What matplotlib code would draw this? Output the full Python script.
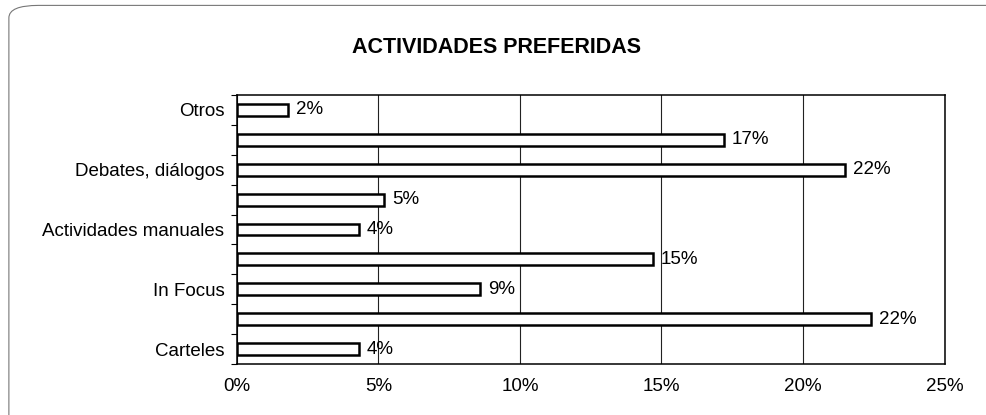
import matplotlib.pyplot as plt
import matplotlib.ticker as mtick
from matplotlib.patches import FancyBboxPatch
import numpy as np

plt.rcParams["font.family"] = ["Liberation Sans", "DejaVu Sans"]

# categories top to bottom; the unlabeled ones have no visible name in the source
categories = [
    "Otros",
    "",
    "Debates, diálogos",
    "",
    "Actividades manuales",
    "",
    "In Focus",
    "",
    "Carteles",
]
shares = [1.8, 17.2, 21.5, 5.2, 4.3, 14.7, 8.6, 22.4, 4.3]
x_ticks = [0, 5, 10, 15, 20, 25]

figure = plt.figure(figsize=(9.87, 4.15), dpi=100)
axis = figure.add_axes([0.240, 0.123, 0.717, 0.648])

y_positions = np.arange(len(categories))
axis.barh(
    y_positions,
    shares,
    height=0.4,
    color="white",
    edgecolor="black",
    linewidth=1.8,
    zorder=3,
)
for y, value in zip(y_positions, shares):
    axis.text(
        value + 0.28,
        y,
        f"{value:.0f}%",
        va="center",
        ha="left",
        fontsize=13.5,
        zorder=4,
    )

axis.set_xlim(0, 25)
axis.set_ylim(len(categories) - 0.5, -0.5)
axis.set_xticks(x_ticks)
axis.xaxis.set_major_formatter(mtick.FuncFormatter(lambda v, _: f"{v:.0f}%"))
axis.tick_params(axis="x", length=0, pad=10, labelsize=13.5)

axis.set_yticks(y_positions)
axis.set_yticklabels(categories, fontsize=13.5)
axis.tick_params(axis="y", length=0, pad=9)
axis.set_yticks(np.arange(len(categories) + 1) - 0.5, minor=True)
axis.tick_params(axis="y", which="minor", length=4, width=0.8, direction="out")

axis.grid(axis="x", color="#222222", linewidth=0.8, zorder=0)
for spine in axis.spines.values():
    spine.set_linewidth(1.1)
    spine.set_color("black")

figure.text(0.503, 0.885, "ACTIVIDADES PREFERIDAS", ha="center", va="center",
            fontsize=15.5, fontweight="bold")

# outer rounded frame of the original chart area
frame = FancyBboxPatch(
    (0.009, -0.05), 1.2, 1.037,
    boxstyle="round,pad=0,rounding_size=0.03",
    transform=figure.transFigure,
    fill=False,
    edgecolor="#777777",
    linewidth=0.8,
)
figure.patches.append(frame)

figure.savefig("out.png", dpi=100)
